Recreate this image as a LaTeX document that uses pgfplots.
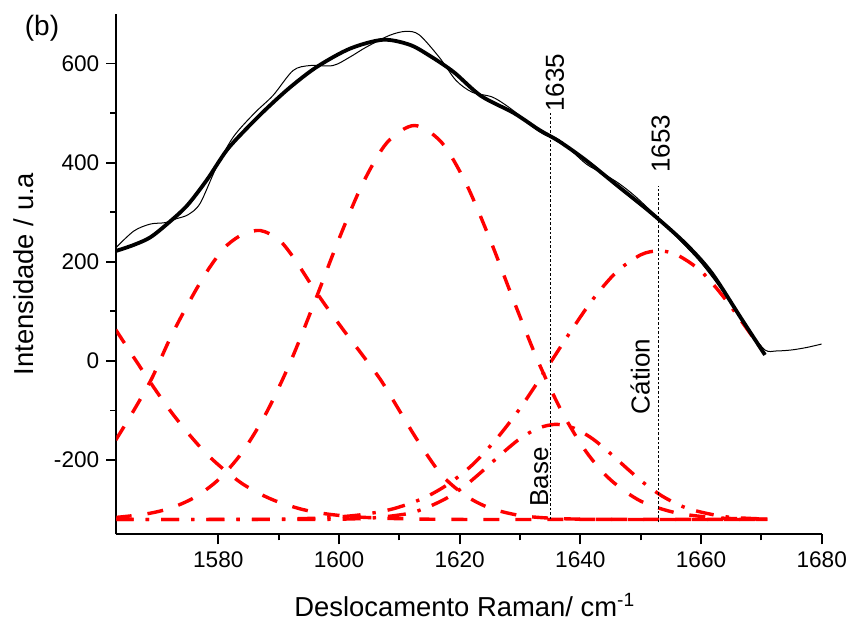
\documentclass[border=0pt]{standalone}
\usepackage{fontspec}
\setmainfont{Liberation Sans}
\usepackage{pgfplots}
\pgfplotsset{compat=1.18}
\begin{document}
\begin{tikzpicture}
\path[use as bounding box] (-58.15pt,-43.35pt) rectangle (366.85pt,267.15pt);
\begin{axis}[
  at={(0,0)}, anchor=south west,
  scale only axis, width=352.7pt, height=260.15pt,
  xmin=1563.1, xmax=1680, ymin=-350, ymax=700,
  axis x line*=bottom, axis y line*=left,
  axis line style={line width=1pt, -},
  xtick={1580,1600,...,1680}, ytick={-200,0,...,600},
  minor x tick num=1, minor y tick num=1,
  tick align=outside, major tick length=5pt, minor tick length=3pt,
  every tick/.style={black, line width=0.9pt},
  /pgf/number format/assume math mode=true,
  /pgf/number format/1000 sep={},
  ticklabel style={font=\fontsize{11.3}{13}\selectfont},
  label style={font=\fontsize{13.7}{16}\selectfont},
  xlabel={Deslocamento Raman/ cm\textsuperscript{-1}},
  ylabel={Intensidade / u.a},
  xlabel style={at={(axis description cs:0.494,-0.1584)}, anchor=base, inner sep=0pt},
  ylabel style={at={(axis description cs:-0.1177,0.5)}, anchor=base, inner sep=0pt},
  clip mode=individual,
]
% component 1 (dashed)
\addplot[red, line width=1.7pt, dash pattern=on 8pt off 8pt, smooth] coordinates {
(1563,63) (1566,7) (1569,-48) (1572,-100) (1575,-146) (1578,-187) (1581,-220) (1584,-248) (1587,-269) (1590,-285) (1594,-300) (1598,-309) (1603,-315) (1610,-318.5) (1620,-320) (1640,-320) (1671,-320)};
% component 2 (dashed)
\addplot[red, line width=1.7pt, dash pattern=on 8pt off 8pt, smooth] coordinates {
(1563,-160) (1566,-100) (1569,-35) (1572,45) (1575,115) (1578,178) (1581,228) (1584,255) (1587,263) (1590,245) (1592.5,208) (1595.5,152) (1598,108) (1601,58) (1604,10) (1607,-40) (1610,-100) (1613,-160) (1617,-230) (1621,-272) (1625,-297) (1630,-312) (1636,-318) (1645,-320) (1671,-320)};
% component 3 (dashed)
\addplot[red, line width=1.7pt, dash pattern=on 8pt off 8pt, smooth] coordinates {
(1563,-316) (1568,-309) (1572,-297.5) (1576,-276) (1580,-240) (1584,-184) (1588,-104) (1592,-1) (1596,120) (1600,246) (1604,359.5) (1608,441) (1612.5,475) (1617,441) (1621,359.5) (1625,246) (1629,120) (1633,-1) (1637,-104) (1641,-184) (1645,-240) (1650,-283) (1656,-307) (1663,-317) (1671,-319.5)};
% component 4 (dash-dot, cation)
\addplot[red, line width=1.7pt, dash pattern=on 9pt off 6pt on 1.7pt off 6pt, smooth] coordinates {
(1563,-320) (1580,-320) (1590,-319.3) (1598,-316.5) (1604,-310) (1609,-298.5) (1614,-277) (1618,-249.6) (1622,-211) (1626,-159) (1630,-96) (1634,-23) (1638,52) (1642,123) (1646,179.5) (1650,214) (1653,222) (1656,214) (1660,181) (1664,125) (1668,58) (1670.6,14)};
% component 5 (dash-dot, base)
\addplot[red, line width=1.7pt, dash pattern=on 9pt off 6pt on 1.7pt off 6pt, smooth] coordinates {
(1563,-320) (1600,-319.5) (1610,-311) (1614,-298.7) (1618,-276) (1621,-251) (1624,-220) (1627,-187) (1630,-157) (1633,-136) (1636,-128) (1639,-136) (1642,-157) (1645,-187) (1648,-220) (1651,-251) (1654,-276) (1658,-298.7) (1664,-314.5) (1671,-319.3)};
% marker lines
\addplot[black, line width=0.5pt, dash pattern=on 1.3pt off 1pt] coordinates {(1635,-320) (1635,500)};
\addplot[black, line width=0.5pt, dash pattern=on 1.3pt off 1pt] coordinates {(1653,-326) (1653,352)};
% fit (thick)
\addplot[black, line width=1.9pt, smooth] coordinates {
(1563.1,222) (1566,234) (1568.7,249) (1571.5,276) (1574.8,313) (1578.1,365) (1581.4,425) (1584.7,469) (1588,509) (1591.9,552) (1596.3,593) (1601.8,630) (1607.3,648) (1611.7,638) (1615,616) (1619,583) (1623.5,535) (1629,500) (1633.2,466) (1636.5,443) (1640.9,405) (1646.4,351) (1651.9,297) (1657.4,237) (1661.8,177) (1666.8,83) (1670.6,12)};
% spectrum (thin)
\addplot[black, line width=0.5pt, smooth] coordinates {
(1563,228) (1566,262) (1568.7,276) (1571.2,279) (1573.1,287) (1575,295) (1577,318) (1579.7,391) (1582.5,452) (1586,500) (1589.1,536) (1592.4,586) (1595.2,596) (1599,596) (1601.8,613) (1604.5,633) (1608.4,657) (1611.1,665) (1613.3,658) (1616.6,613) (1619.4,566) (1622.1,542) (1625.5,532) (1628.8,506) (1632.1,472) (1634.3,455) (1636.5,446) (1640.9,398) (1643.5,380) (1646.4,358) (1649.2,331) (1653,287) (1656.3,246) (1660,198) (1664,134) (1668,62) (1670.6,22) (1672.5,20) (1675,22) (1677.5,27) (1680,34)};
% annotations
\node[rotate=90, inner sep=0pt, font=\fontsize{13}{15}\selectfont] at (axis cs:1635.8,561) {1635};
\node[rotate=90, inner sep=0pt, font=\fontsize{13}{15}\selectfont] at (axis cs:1653.3,438.5) {1653};
\node[rotate=90, inner sep=0pt, font=\fontsize{13}{15}\selectfont] at (axis cs:1633.2,-234.6) {Base};
\node[rotate=90, inner sep=0pt, font=\fontsize{13}{15}\selectfont] at (axis cs:1649.9,-31.6) {Cátion};
\node[inner sep=0pt, font=\fontsize{14}{16}\selectfont] at (axis description cs:-0.1053,0.973) {(b)};
\end{axis}
\end{tikzpicture}
\end{document}
